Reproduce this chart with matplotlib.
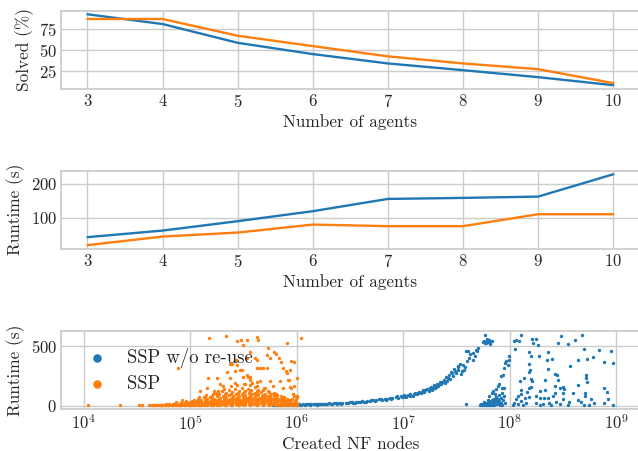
import matplotlib
matplotlib.use("Agg")
import matplotlib.pyplot as plt
import seaborn as sns

# top two panels: mean over instances per number of agents
agents = [3, 4, 5, 6, 7, 8, 9, 10]
solved_noreuse = [92.9, 81.3, 59.0, 45.6, 34.5, 26.5, 18.2, 8.7]
solved_ssp = [87.3, 87.3, 67.4, 55.1, 42.9, 34.5, 27.7, 11.1]
runtime_noreuse = [41.8, 61.4, 89.3, 119.0, 155.5, 158.5, 162.4, 228.8]
runtime_ssp = [18.1, 43.6, 55.5, 79.2, 74.5, 74.5, 110.0, 110.0]

# bottom panel: (created NF nodes, runtime s) per solved instance
noreuse_points = [
    # slow growth of runtime with nodes
    (6.0e5, 4), (6.5e5, 7), (6.9e5, 3), (7.2e5, 9), (7.6e5, 5), (7.9e5, 8), (8.3e5, 4),
    (8.7e5, 11), (9.1e5, 7), (9.5e5, 10), (1.0e6, 6), (1.05e6, 12), (1.1e6, 9), (1.15e6, 13),
    (1.2e6, 8), (1.26e6, 12), (1.32e6, 15), (1.38e6, 10), (1.45e6, 14), (1.51e6, 12),
    (1.58e6, 16), (1.66e6, 13), (1.78e6, 17), (1.86e6, 15), (2.0e6, 19), (2.09e6, 16),
    (2.24e6, 21), (2.4e6, 18), (2.51e6, 23), (2.69e6, 20), (2.88e6, 25), (3.02e6, 22),
    (3.16e6, 27), (3.39e6, 24), (3.63e6, 33), (3.8e6, 29), (4.07e6, 36), (4.27e6, 31),
    (4.57e6, 40), (4.9e6, 37), (5.25e6, 44), (5.5e6, 41), (5.89e6, 52), (6.31e6, 48),
    (6.76e6, 58), (7.08e6, 54), (7.59e6, 67), (7.94e6, 62), (8.51e6, 72), (8.91e6, 66),
    (9.55e6, 85), (1.0e7, 75), (1.02e7, 92), (1.07e7, 70), (1.12e7, 88), (1.17e7, 96),
    (1.23e7, 84), (1.29e7, 108), (1.35e7, 95), (1.41e7, 118), (1.48e7, 104), (1.55e7, 128),
    (1.58e7, 112), (1.66e7, 140), (1.74e7, 125), (1.82e7, 158), (1.86e7, 135), (1.95e7, 170),
    (2.0e7, 150), (2.09e7, 185), (2.14e7, 162), (2.24e7, 200), (2.29e7, 178), (2.4e7, 215),
    (2.45e7, 190), (2.51e7, 240), (2.57e7, 205), (2.69e7, 260), (2.75e7, 225), (2.82e7, 285),
    (2.95e7, 250), (3.02e7, 310), (3.16e7, 275), (3.24e7, 330), (3.31e7, 300), (3.39e7, 350),
    (3.47e7, 265), (3.59e7, 289), (3.63e7, 344), (3.8e7, 320), (3.98e7, 372), (4.07e7, 456),
    (4.17e7, 400), (4.52e7, 386), (4.68e7, 414), (4.9e7, 455), (5.01e7, 483), (3.89e7, 461),
    (6.31e5, 2), (7.08e5, 6), (8.13e5, 10), (9.33e5, 4), (1.07e6, 7), (1.23e6, 15), (1.35e6, 6),
    (1.55e6, 9), (1.7e6, 11), (1.91e6, 12), (2.14e6, 14), (2.34e6, 25), (2.63e6, 17),
    (2.95e6, 19), (3.31e6, 30), (3.55e6, 21), (3.98e6, 27), (4.47e6, 34), (5.01e6, 46),
    (5.62e6, 47), (6.17e6, 56), (6.92e6, 50), (7.76e6, 57), (8.71e6, 78), (9.77e6, 70),
    (1.05e7, 80), (1.15e7, 78), (1.26e7, 100), (1.38e7, 110), (1.51e7, 115), (1.62e7, 130),
    (1.78e7, 148), (1.91e7, 145), (2.04e7, 160), (2.19e7, 185), (2.34e7, 195), (2.63e7, 230),
    (2.88e7, 270), (3.09e7, 290), (3.31e7, 320), (3.72e7, 300), (4.27e7, 430), (4.57e7, 440),
    (4.79e7, 470),
    (5.62e7, 530), (5.75e7, 545), (5.89e7, 594), (6.03e7, 528), (6.17e7, 540), (6.31e7, 535),
    (6.46e7, 548), (6.61e7, 530), (6.76e7, 538), (5.89e7, 525), (6.1e7, 560), (6.5e7, 520),
    # second branch just below 1e8
    (5.25e7, 5), (5.5e7, 3), (5.62e7, 10), (5.75e7, 4), (5.89e7, 18), (6.03e7, 7), (6.17e7, 25),
    (6.17e7, 3), (6.31e7, 12), (6.46e7, 35), (6.46e7, 5), (6.61e7, 20), (6.76e7, 45), (6.76e7, 8),
    (6.92e7, 28), (7.08e7, 60), (7.08e7, 4), (7.24e7, 15), (7.41e7, 40), (7.41e7, 75),
    (7.59e7, 10), (7.76e7, 55), (7.94e7, 30), (7.94e7, 90), (8.13e7, 6), (8.32e7, 65),
    (8.32e7, 20), (8.51e7, 110), (8.71e7, 45), (3.89e7, 17),
    (5.4e7, 14), (5.8e7, 30), (6.2e7, 48), (6.6e7, 2), (7.0e7, 36), (7.3e7, 52), (7.7e7, 22),
    (8.0e7, 42), (8.4e7, 8), (8.8e7, 80), (9.0e7, 25),
    (6.92e7, 122), (6.46e7, 80), (7.24e7, 94), (6.76e7, 108), (7.41e7, 136), (7.76e7, 164),
    (8.0e7, 178), (8.51e7, 150), (8.91e7, 150), (8.32e7, 247), (8.71e7, 261), (9.12e7, 358),
    (9.33e7, 372), (9.55e7, 344), (9.77e7, 414), (9.77e7, 386), (8.91e7, 317),
    # scattered above 1e8
    (1.28e8, 594), (1.11e8, 544), (1.15e8, 553), (1.22e8, 539), (1.63e8, 561), (1.75e8, 561),
    (1.65e8, 525), (1.85e8, 511), (3.06e8, 581), (2.85e8, 528), (3.52e8, 519), (4.08e8, 550),
    (4.75e8, 589), (1.12e8, 475), (1.53e8, 450), (1.59e8, 414), (1.88e8, 419), (2.3e8, 450),
    (2.23e8, 386), (2.52e8, 394), (4.97e8, 478), (4.36e8, 386), (5.3e8, 392), (6.03e8, 406),
    (6.97e8, 469), (8.95e8, 456), (7.74e8, 364), (9.35e8, 358), (1.53e8, 353), (1.56e8, 303),
    (1.52e8, 281), (2.28e8, 306), (2.64e8, 269), (2.77e8, 261), (2.83e8, 211), (3.66e8, 336),
    (5.18e8, 253), (5.26e8, 228), (5.3e8, 200), (1.36e8, 228), (1.24e8, 206), (1.57e8, 225),
    (1.63e8, 206), (2.17e8, 214), (1.6e8, 156), (1.52e8, 144), (1.29e8, 128), (1.46e8, 117),
    (1.28e8, 94), (1.91e8, 122), (2.17e8, 128), (2.64e8, 164), (2.94e8, 150), (2.69e8, 108),
    (3.16e8, 156), (3.27e8, 136), (3.2e8, 106), (3.92e8, 108), (4.4e8, 172), (5.14e8, 108),
    (7.64e8, 150), (8.2e8, 114), (2.58e8, 81), (2.31e8, 67), (2.08e8, 67), (1.91e8, 67),
    (1.75e8, 81), (1.53e8, 72), (1.38e8, 67), (1.19e8, 81), (1.14e8, 53), (1.11e8, 25),
    (1.07e8, 6), (1.19e8, 17), (1.28e8, 39), (1.33e8, 6), (1.43e8, 25), (1.77e8, 25),
    (1.91e8, 6), (2.05e8, 17), (2.33e8, 25), (2.45e8, 6), (2.73e8, 33), (2.94e8, 11),
    (3.64e8, 33), (3.54e8, 6), (3.16e8, 53), (4.43e8, 50), (4.72e8, 33), (5.04e8, 6),
    (5.14e8, 81), (5.61e8, 6), (5.81e8, 53), (6.25e8, 25), (7.64e8, 25), (9.42e8, 6),
    (8.34e8, 53),
]

ssp_points = [
    (1.1e4, 5), (2.2e4, 5), (3.3e4, 4), (3.5e4, 6), (4.1e4, 3), (4.4e4, 5),
    (4.5e4, 3), (4.6e4, 8), (4.75e4, 6), (4.85e4, 2), (5.1e4, 4), (5.2e4, 9),
    (5.45e4, 2), (5.55e4, 7), (5.85e4, 5), (5.95e4, 11), (5.8e4, 3),
    (6.25e4, 8), (6.35e4, 2), (6.3e4, 14), (6.7e4, 4), (6.85e4, 10), (6.8e4, 6),
    (7.2e4, 12), (7.3e4, 3), (7.15e4, 18), (7.3e4, 33), (7.7e4, 7), (7.85e4, 15), (7.8e4, 2),
    (8.25e4, 5), (8.4e4, 11), (8.3e4, 20), (8.4e4, 50), (8.85e4, 9), (9.0e4, 3), (8.95e4, 16),
    (8.8e4, 25), (9.5e4, 6), (9.6e4, 13), (9.45e4, 22), (9.7e4, 2),
    (1.01e5, 10), (1.03e5, 4), (1.02e5, 18), (1.0e5, 30), (1.04e5, 40),
    (1.09e5, 7), (1.11e5, 15), (1.1e5, 25), (1.12e5, 3), (1.08e5, 45),
    (1.16e5, 12), (1.18e5, 5), (1.17e5, 20), (1.15e5, 35), (1.19e5, 60),
    (1.25e5, 8), (1.27e5, 17), (1.24e5, 28), (1.28e5, 3), (1.26e5, 50),
    (1.34e5, 14), (1.36e5, 6), (1.33e5, 24), (1.37e5, 40), (1.35e5, 70),
    (1.44e5, 10), (1.46e5, 20), (1.43e5, 4), (1.47e5, 33), (1.45e5, 55), (1.42e5, 90),
    (1.54e5, 16), (1.56e5, 8), (1.53e5, 28), (1.57e5, 45), (1.55e5, 75),
    (1.65e5, 12), (1.67e5, 24), (1.64e5, 5), (1.68e5, 38), (1.66e5, 60), (1.63e5, 95),
    (1.77e5, 18), (1.79e5, 9), (1.76e5, 30), (1.8e5, 50), (1.78e5, 80), (1.75e5, 110),
    (1.9e5, 14), (1.92e5, 26), (1.89e5, 6), (1.93e5, 42), (1.91e5, 65), (1.88e5, 100),
    (2.03e5, 20), (2.05e5, 10), (2.02e5, 35), (2.06e5, 55), (2.04e5, 85), (2.01e5, 120),
    (2.18e5, 16), (2.2e5, 30), (2.17e5, 7), (2.21e5, 48), (2.19e5, 70), (2.16e5, 105),
    (2.33e5, 22), (2.35e5, 12), (2.32e5, 40), (2.36e5, 60), (2.34e5, 90), (2.31e5, 130),
    (2.5e5, 18), (2.52e5, 34), (2.49e5, 8), (2.53e5, 52), (2.51e5, 78), (2.48e5, 115),
    (2.68e5, 25), (2.7e5, 14), (2.67e5, 45), (2.71e5, 65), (2.69e5, 95), (2.66e5, 140),
    (2.87e5, 20), (2.89e5, 38), (2.86e5, 9), (2.9e5, 58), (2.88e5, 85), (2.85e5, 120),
    (3.08e5, 28), (3.1e5, 15), (3.07e5, 48), (3.11e5, 70), (3.09e5, 100), (3.06e5, 150),
    (3.3e5, 22), (3.32e5, 40), (3.29e5, 10), (3.33e5, 62), (3.31e5, 90), (3.28e5, 125),
    (3.54e5, 30), (3.56e5, 16), (3.53e5, 52), (3.57e5, 75), (3.55e5, 105), (3.52e5, 140),
    (3.79e5, 24), (3.81e5, 44), (3.78e5, 11), (3.82e5, 66), (3.8e5, 95), (3.77e5, 130),
    (4.06e5, 32), (4.08e5, 18), (4.05e5, 55), (4.09e5, 80), (4.07e5, 110), (4.04e5, 160),
    (4.36e5, 26), (4.38e5, 46), (4.35e5, 12), (4.39e5, 68), (4.37e5, 98), (4.34e5, 135),
    (4.67e5, 34), (4.69e5, 18), (4.66e5, 58), (4.7e5, 82), (4.68e5, 115),
    (5.0e5, 28), (5.02e5, 48), (4.99e5, 12), (5.03e5, 70), (5.01e5, 100), (4.98e5, 145),
    (5.36e5, 35), (5.38e5, 16), (5.35e5, 60), (5.39e5, 85), (5.37e5, 120),
    (5.74e5, 26), (5.76e5, 45), (5.73e5, 10), (5.77e5, 65), (5.75e5, 95),
    (6.16e5, 30), (6.18e5, 14), (6.15e5, 52), (6.19e5, 78), (6.17e5, 110),
    (6.6e5, 22), (6.62e5, 40), (6.59e5, 8), (6.63e5, 60), (6.61e5, 90),
    (7.07e5, 18), (7.09e5, 35), (7.06e5, 6), (7.1e5, 55), (7.08e5, 80),
    (7.58e5, 14), (7.6e5, 28), (7.57e5, 5), (7.61e5, 45), (7.59e5, 70),
    (8.12e5, 10), (8.14e5, 22), (8.11e5, 4), (8.15e5, 38), (8.13e5, 55),
    (8.7e5, 8), (8.72e5, 18), (8.69e5, 30), (8.73e5, 50),
    (9.32e5, 6), (9.34e5, 14), (9.31e5, 25), (9.35e5, 100),
    (1.0e6, 5), (1.01e6, 20), (9.9e5, 60),
    # in between the columns above
    (5.3e4, 3), (5.35e4, 6), (6.1e4, 4), (6.05e4, 9), (7.0e4, 7), (6.95e4, 2), (7.05e4, 13),
    (8.0e4, 4), (8.1e4, 9), (8.05e4, 17), (9.2e4, 3), (9.25e4, 12), (9.3e4, 19), (9.15e4, 35),
    (1.06e5, 6), (1.07e5, 14), (1.05e5, 22), (1.065e5, 33),
    (1.22e5, 4), (1.21e5, 11), (1.23e5, 22), (1.22e5, 38), (1.215e5, 75),
    (1.4e5, 7), (1.39e5, 16), (1.41e5, 30), (1.4e5, 48), (1.395e5, 62),
    (1.6e5, 5), (1.61e5, 13), (1.59e5, 22), (1.6e5, 35), (1.62e5, 52), (1.6e5, 85),
    (1.84e5, 6), (1.85e5, 15), (1.83e5, 25), (1.84e5, 40), (1.86e5, 58), (1.84e5, 92),
    (1.83e5, 125),
    (2.11e5, 8), (2.12e5, 18), (2.1e5, 28), (2.11e5, 44), (2.13e5, 62), (2.11e5, 95),
    (2.1e5, 140),
    (2.43e5, 5), (2.44e5, 15), (2.42e5, 26), (2.43e5, 45), (2.45e5, 68), (2.43e5, 100),
    (2.42e5, 165),
    (2.79e5, 7), (2.8e5, 18), (2.78e5, 32), (2.79e5, 50), (2.81e5, 75), (2.79e5, 108),
    (2.78e5, 175),
    (3.2e5, 6), (3.21e5, 16), (3.19e5, 35), (3.2e5, 55), (3.22e5, 80), (3.2e5, 115),
    (3.19e5, 185),
    (3.67e5, 8), (3.68e5, 20), (3.66e5, 38), (3.67e5, 58), (3.69e5, 85), (3.67e5, 120),
    (3.66e5, 170),
    (4.22e5, 6), (4.23e5, 22), (4.21e5, 40), (4.22e5, 60), (4.24e5, 88), (4.22e5, 125),
    (4.21e5, 195),
    (4.84e5, 8), (4.85e5, 24), (4.83e5, 42), (4.84e5, 62), (4.86e5, 90), (4.84e5, 130),
    (5.56e5, 6), (5.57e5, 20), (5.55e5, 38), (5.56e5, 56), (5.58e5, 80), (5.56e5, 112),
    (6.38e5, 5), (6.39e5, 17), (6.37e5, 33), (6.38e5, 48), (6.4e5, 70), (6.38e5, 100),
    (7.33e5, 4), (7.34e5, 12), (7.32e5, 25), (7.33e5, 40), (7.35e5, 62),
    (8.41e5, 3), (8.42e5, 10), (8.4e5, 20), (8.41e5, 35), (8.43e5, 48),
    (9.66e5, 3), (9.67e5, 9), (9.65e5, 18), (9.66e5, 40),
    # sparse upper part
    (1.52e5, 564), (2.17e5, 583), (2.74e5, 545), (3.0e5, 549), (3.4e5, 553), (4.22e5, 572),
    (4.37e5, 553), (3.12e5, 508), (5.42e5, 486), (8.05e5, 522), (1.11e6, 569), (3.65e5, 447),
    (6.17e5, 453), (6.87e5, 397), (6.46e5, 430), (3.44e5, 397), (4.06e5, 397), (4.22e5, 383),
    (5.24e5, 425), (2.7e5, 383), (2.37e5, 347), (2.94e5, 300), (2.21e5, 286), (3.16e5, 244),
    (3.52e5, 244), (4.22e5, 314), (4.53e5, 314), (4.87e5, 314), (5.24e5, 314), (5.62e5, 400),
    (7.08e5, 369), (7.48e5, 314), (8.17e5, 272), (8.34e5, 217), (1.0e6, 231), (9.44e5, 369),
    (3.65e5, 217), (1.48e5, 233), (2.37e5, 233), (7.67e4, 314),
    (2.45e5, 350), (2.75e5, 344), (2.63e5, 289), (3.05e5, 303), (3.39e5, 261), (3.65e5, 239),
    (4.53e5, 206), (5.62e5, 206), (6.92e5, 206), (7.94e5, 289), (8.51e5, 219), (1.78e5, 233),
    (1.91e5, 178), (2.04e5, 164), (2.63e5, 192), (3.31e5, 178), (3.8e5, 192), (4.22e5, 164),
    (5.01e5, 150), (6.03e5, 164), (7.5e5, 150), (9.44e5, 164), (1.45e5, 150), (1.23e5, 122),
    (1.66e5, 122), (8.9e5, 372), (8.7e5, 303), (8.7e5, 155), (8.9e5, 144), (9.1e5, 53),
    (9.55e5, 80), (1.0e6, 80), (8.9e5, 44), (1.0e6, 75),
]

blue = "#1f77b4"
orange = "#ff7f0e"

sns.set_theme(style="whitegrid")
plt.rcParams["font.family"] = "serif"
plt.rcParams["font.serif"] = ["cmr10"]
plt.rcParams["mathtext.fontset"] = "cm"
plt.rcParams["axes.formatter.use_mathtext"] = True
plt.rcParams["axes.unicode_minus"] = False
plt.rcParams["text.color"] = "0.15"
plt.rcParams["axes.labelcolor"] = "0.15"
plt.rcParams["xtick.color"] = "0.15"
plt.rcParams["ytick.color"] = "0.15"

fig = plt.figure(figsize=(6.38, 4.51), dpi=100)
ax1 = fig.add_axes([0.0959, 0.8033, 0.9066, 0.1729])
ax2 = fig.add_axes([0.0959, 0.4486, 0.9066, 0.1729])
ax3 = fig.add_axes([0.0959, 0.0931, 0.9066, 0.1736])

ax1.plot(agents, solved_noreuse, color=blue, lw=1.7)
ax1.plot(agents, solved_ssp, color=orange, lw=1.7)
ax1.set_yticks([25, 50, 75])
ax1.set_ylabel("Solved (%)", fontsize=12.4)
ax1.set_xlabel("Number of agents", fontsize=12.4)

ax2.plot(agents, runtime_noreuse, color=blue, lw=1.7)
ax2.plot(agents, runtime_ssp, color=orange, lw=1.7)
ax2.set_yticks([100, 200])
ax2.set_ylabel("Runtime (s)", fontsize=12.4)
ax2.set_xlabel("Number of agents", fontsize=12.4)

nx, ny = zip(*noreuse_points)
sx, sy = zip(*ssp_points)
ax3.scatter(nx, ny, s=6, color=blue, linewidths=0, label="SSP w/o re-use")
ax3.scatter(sx, sy, s=6, color=orange, linewidths=0, label="SSP")
ax3.set_xscale("log")
ax3.set_xlim(10 ** 3.79, 10 ** 9.22)
ax3.set_ylim(-28, 628)
ax3.set_yticks([0, 500])
ax3.set_ylabel("Runtime (s)", fontsize=12.4)
ax3.set_xlabel("Created NF nodes", fontsize=12.4)
ax3.legend(loc="upper left", frameon=False, markerscale=2.5, fontsize=13.5,
           handletextpad=0.6, labelspacing=0.4)

for ax in (ax1, ax2, ax3):
    ax.tick_params(axis="both", labelsize=12, length=0)
    ax.tick_params(axis="x", pad=3)
    ax.tick_params(axis="y", pad=3)
    ax.xaxis.labelpad = 3
    for sp in ax.spines.values():
        sp.set_color("0.8")

fig.savefig("out.png", dpi=100)
